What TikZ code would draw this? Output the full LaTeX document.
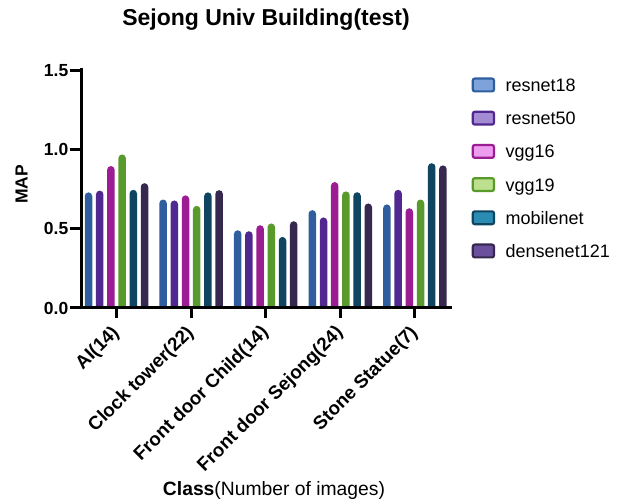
\documentclass[tikz,border=0pt]{standalone}
\usepackage{fontspec}
\setmainfont{Liberation Sans}
\definecolor{bar0}{HTML}{2F5E9E}
\definecolor{bar1}{HTML}{51288F}
\definecolor{bar2}{HTML}{9B1C93}
\definecolor{bar3}{HTML}{589A2B}
\definecolor{bar4}{HTML}{0F4560}
\definecolor{bar5}{HTML}{36284F}
\definecolor{leg0}{HTML}{7EA3DA}
\definecolor{leg1}{HTML}{A48BD4}
\definecolor{leg2}{HTML}{EE9CEE}
\definecolor{leg3}{HTML}{BCE08E}
\definecolor{leg4}{HTML}{2A8BB3}
\definecolor{leg5}{HTML}{6A4F9C}
\begin{document}
\begin{tikzpicture}[x=1pt,y=1pt,
  axislabel/.style={inner sep=0pt, font=\fontsize{17.5}{21}\selectfont\bfseries},
  catlabel/.style={inner sep=0pt, font=\fontsize{18.8}{22}\selectfont\bfseries},
  legtext/.style={inner sep=0pt, anchor=base west, font=\fontsize{18}{21}\selectfont},
  axisline/.style={line width=3pt, black},
  legbox/.style={line width=2.2pt, rounded corners=2pt}]
\useasboundingbox (0,0) rectangle (622,502);
\def\Yz{194}
\def\sc{158.6}
% bars
\foreach \g/\vals in {0/{0.729,0.740,0.895,0.968,0.745,0.787},
                      1/{0.684,0.678,0.710,0.644,0.729,0.743},
                      2/{0.490,0.484,0.522,0.533,0.448,0.547},
                      3/{0.617,0.571,0.794,0.735,0.730,0.659},
                      4/{0.653,0.745,0.629,0.684,0.913,0.899}} {
  \foreach \v [count=\i from 0] in \vals {
    \pgfmathsetmacro\xc{116.5+74.6*\g+(\i-2.5)*11.2}
    \pgfmathsetmacro\yt{\Yz+\v*\sc-3.75}
    \fill[fill=bar\i] (\xc-3.75,\Yz) -- (\xc-3.75,\yt) arc[start angle=180,end angle=0,radius=3.75pt] -- (\xc+3.75,\Yz) -- cycle;
  }
}
% axes
\coordinate (ytop) at (81,433.5);
\coordinate (ybot) at (81,192.5);
\coordinate (xl) at (79.5,\Yz);
\coordinate (xr) at (452,\Yz);
\draw[axisline] (ybot) -- (ytop);
\draw[axisline] (xl) -- (xr);
\foreach \t/\lab in {0/0.0,1/0.5,2/1.0,3/1.5} {
  \pgfmathsetmacro\yy{\Yz+\t*79.3}
  \draw[axisline] (69.5,\yy) -- (81,\yy);
  \node[axislabel, anchor=east] (ytick\t) at (68.5,\yy) {\lab};
}
\foreach \lab [count=\g from 0] in {AI(14),Clock tower(22),Front door Child(14),Front door Sejong(24),Stone Statue(7)} {
  \pgfmathsetmacro\xx{116.5+74.6*\g}
  \draw[axisline] (\xx,\Yz) -- (\xx,183.5);
  \node[catlabel, anchor=east, rotate=45] (xlab\g) at (\xx,172) {\lab};
}
% titles
\node[inner sep=0pt, anchor=base, font=\fontsize{23}{26}\selectfont\bfseries] (title) at (266,476) {Sejong Univ Building(test)};
\node[axislabel, rotate=90] (ylabel) at (21.7,317.5) {MAP};
\node[inner sep=0pt, anchor=base, font=\fontsize{19.3}{22}\selectfont] (xlabel) at (274,6) {\textbf{Class}(Number of images)};
% legend
\foreach \name [count=\i from 0] in {resnet18,resnet50,vgg16,vgg19,mobilenet,densenet121} {
  \pgfmathsetmacro\yy{502-85-33.2*\i}
  \draw[legbox, draw=bar\i, fill=leg\i] (472.8,\yy-6.4) rectangle (494,\yy+6.4);
  \node[legtext] (leg\i) at (505.5,\yy-6.5) {\name};
}
\end{tikzpicture}
\end{document}
